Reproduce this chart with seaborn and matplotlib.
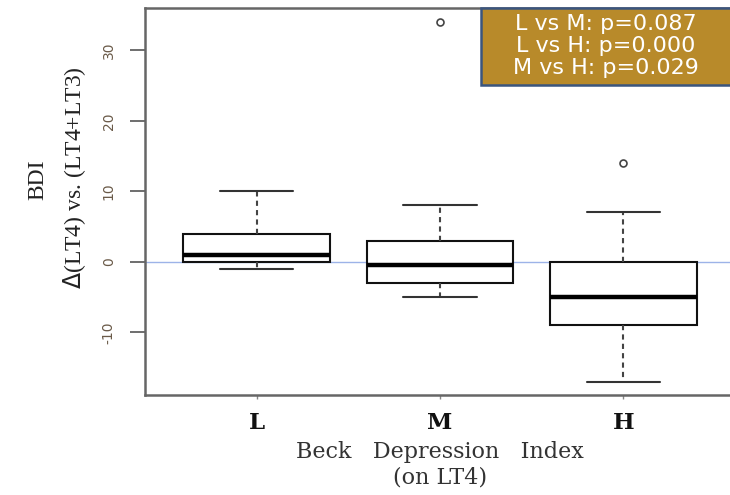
import matplotlib
matplotlib.use("Agg")
import matplotlib.pyplot as plt
from matplotlib.patches import Rectangle
import seaborn as sns
import pandas as pd

# ---------------------------
# Data (whiskers, hinges, medians, outliers)
# ---------------------------
groups = ["L", "M", "H"]
bdi_L = [-1, -0.5, 0, 0.5, 1, 2, 4, 7, 10]
bdi_M = [-5, -4, -3, -1, -0.5, 1, 3, 8, 34]
bdi_H = [-17, -12, -9, -7, -5, -2, 0, 7, 14]
pvalue_text = ["L vs M: p=0.087", "L vs H: p=0.000", "M vs H: p=0.029"]

df = pd.DataFrame({
    "group": ["L"] * len(bdi_L) + ["M"] * len(bdi_M) + ["H"] * len(bdi_H),
    "bdi": bdi_L + bdi_M + bdi_H,
})

sns.set_style("white")

fig = plt.figure(figsize=(7.3, 4.95), dpi=100)
ax = fig.add_axes([145 / 730, 100 / 495, 590 / 730, 387 / 495])

# zero reference line
ax.axhline(0, color="#9db3e8", lw=1, zorder=0)

sns.boxplot(
    data=df, x="group", y="bdi", order=groups, ax=ax,
    width=0.8, whis=1.5, color="white", linecolor="#111111", linewidth=1.5,
    medianprops=dict(color="black", linewidth=3.2),
    whiskerprops=dict(color="#444444", linestyle=(0, (2.5, 2)), linewidth=1.5),
    capprops=dict(color="#333333", linewidth=1.5),
    flierprops=dict(marker="o", markersize=5, markerfacecolor="none",
                    markeredgecolor="#444444", markeredgewidth=1.2),
)

ax.set_xlim(-0.61, 2.61)
ax.set_ylim(-18.9, 36.0)
ax.set_yticks([-10, 0, 10, 20, 30])
ax.set_yticklabels(["-10", "0", "10", "20", "30"], rotation=90, va="center",
                   fontsize=10, color="#6a5a48")
ax.set_xticks(range(3))
ax.set_xticklabels(groups, fontsize=16.5, fontweight="bold", family="DejaVu Serif",
                   color="#111111")
ax.tick_params(axis="y", length=11, width=1.2, color="#555555", pad=10, left=True)
ax.tick_params(axis="x", length=3, width=1, color="#888888", pad=9, bottom=True)

for side in ["left", "bottom", "top", "right"]:
    ax.spines[side].set_color("#666666")
    ax.spines[side].set_linewidth(1.8)

ax.set_xlabel("Beck   Depression   Index\n(on LT4)", fontsize=16,
              family="DejaVu Serif", color="#333333", linespacing=1.25, labelpad=5)
ax.set_ylabel("")

# y label: two lines of rotated serif text
fig.text(38 / 730, 1 - 180 / 495, "BDI", rotation=90, ha="center", va="center",
         fontsize=17, family="Liberation Serif", color="#222222")
fig.text(75 / 730, 1 - 178 / 495, r"$\Delta$(LT4) vs. (LT4+LT3)", rotation=90,
         ha="center", va="center", fontsize=17, family="Liberation Serif",
         color="#222222")

# p-value box
fig.patches.append(Rectangle((481 / 730, 1 - 85 / 495), 260 / 730, 77 / 495,
                             transform=fig.transFigure, facecolor="#b88a2a",
                             edgecolor="#3a557f", linewidth=1.8, zorder=5))
fig.text(606 / 730, 1 - 46 / 495, "\n".join(pvalue_text), ha="center", va="center",
         fontsize=16, family="DejaVu Sans", color="white", linespacing=1.12,
         zorder=6)

plt.savefig("out.png", dpi=100)
